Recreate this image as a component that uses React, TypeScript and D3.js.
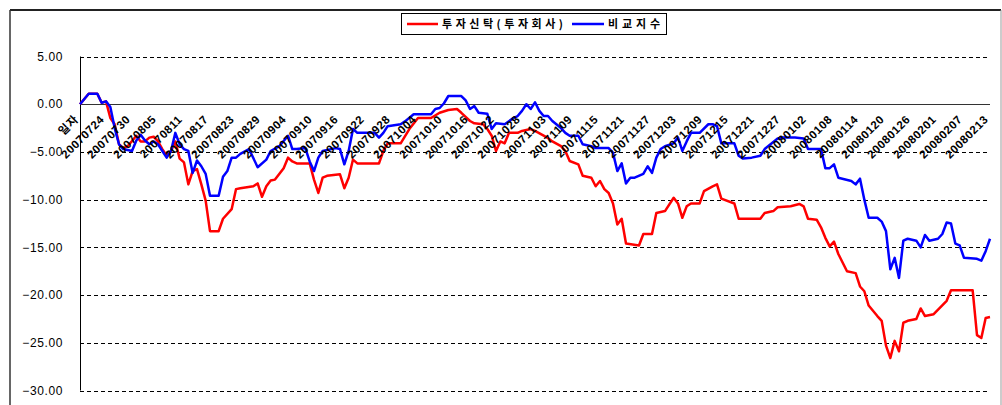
import React from "react";
import * as d3 from "d3";

const tickLabels = ["일자","20070724","20070730","20070805","20070811","20070817","20070823","20070829","20070904","20070910","20070916","20070922","20070928","20071004","20071010","20071016","20071022","20071028","20071103","20071109","20071115","20071121","20071127","20071203","20071209","20071215","20071221","20071227","20080102","20080108","20080114","20080120","20080126","20080201","20080207","20080213"];
const labelStep = 6;
const lastDay = 210;
const yTicks = [5, 0, -5, -10, -15, -20, -25, -30];
const seriesNames = ["투자신탁(투자회사)", "비교지수"];

// [day index, value]
const fundValues: [number, number][] = [[0,0],[2,1.1],[4,1.1],[5,0.15],[6,0.3],[7,-1.45],[8,-2.1],[9,-4.2],[10,-4.6],[11,-4.4],[13,-3.3],[14,-3.9],[15,-3.9],[16,-3.5],[17,-3.4],[18,-3.9],[19,-4.7],[20,-5.4],[21,-4.9],[22,-3.9],[23,-5.7],[24,-6.1],[25,-8.4],[26,-7.0],[27,-6.8],[28,-8.4],[29,-10.1],[30,-13.3],[32,-13.3],[33,-12.0],[35,-11.0],[36,-8.9],[37,-8.8],[40,-8.6],[41,-8.3],[42,-9.7],[43,-8.6],[44,-8.0],[45,-7.9],[47,-6.7],[48,-5.6],[49,-6.0],[50,-6.2],[53,-6.2],[54,-7.9],[55,-9.3],[56,-7.7],[57,-7.5],[60,-7.35],[61,-8.8],[62,-7.7],[63,-5.8],[64,-6.2],[69,-6.2],[70,-4.9],[71,-4.1],[74,-4.1],[76,-2.6],[78,-1.45],[81,-1.45],[83,-0.9],[85,-0.6],[87,-0.5],[88,-0.9],[90,-1.76],[91,-2.0],[93,-2.1],[94,-2.6],[95,-3.3],[96,-4.9],[97,-3.9],[98,-4.1],[99,-3.0],[101,-3.0],[102,-2.8],[104,-2.6],[105,-2.8],[107,-3.3],[108,-3.55],[109,-3.9],[111,-4.4],[112,-4.9],[113,-5.95],[115,-6.3],[116,-7.5],[118,-7.7],[119,-8.6],[120,-8.05],[121,-8.9],[122,-9.3],[123,-10.4],[124,-12.6],[125,-12.0],[126,-14.6],[129,-14.8],[130,-13.6],[132,-13.6],[133,-11.4],[135,-11.2],[137,-9.8],[138,-10.4],[139,-11.9],[140,-10.7],[141,-10.4],[143,-10.4],[144,-9.1],[146,-8.6],[147,-8.4],[148,-9.9],[151,-10.4],[152,-12.0],[157,-12.0],[158,-11.4],[160,-11.2],[161,-10.8],[164,-10.7],[166,-10.45],[167,-10.7],[168,-12.0],[170,-12.1],[171,-12.9],[172,-14.0],[173,-14.9],[174,-14.4],[175,-15.7],[177,-17.5],[179,-17.7],[180,-19.1],[181,-19.6],[182,-21.1],[184,-22.2],[185,-22.7],[186,-25.3],[187,-26.6],[188,-24.8],[189,-25.9],[190,-22.9],[191,-22.7],[193,-22.5],[194,-21.4],[195,-22.2],[197,-22.0],[200,-20.6],[201,-19.5],[206,-19.5],[207,-24.2],[208,-24.5],[209,-22.4],[210,-22.3]];

const indexValues: [number, number][] = [[0,0],[2,1.1],[4,1.1],[5,0.15],[6,0.3],[7,-0.3],[8,-2.5],[9,-4.2],[10,-4.7],[12,-4.9],[13,-3.8],[14,-3.2],[15,-3.8],[16,-4.2],[17,-3.9],[18,-4.2],[19,-4.9],[20,-5.6],[21,-4.9],[22,-3.0],[23,-4.2],[24,-4.7],[25,-4.9],[26,-7.2],[27,-5.9],[28,-6.5],[29,-7.3],[30,-9.6],[32,-9.6],[33,-7.6],[34,-7.0],[35,-5.6],[36,-5.6],[37,-5.2],[39,-4.7],[41,-6.6],[43,-5.8],[44,-4.9],[46,-4.4],[48,-3.3],[49,-4.7],[50,-4.7],[52,-4.6],[53,-6.0],[54,-7.0],[55,-5.6],[56,-4.9],[59,-4.6],[60,-4.7],[61,-6.3],[62,-4.9],[63,-2.6],[64,-3.0],[68,-3.0],[69,-3.5],[70,-3.0],[71,-2.3],[74,-2.1],[75,-1.8],[77,-1.05],[81,-1.05],[82,-0.5],[83,-0.4],[84,0.1],[85,0.86],[88,0.86],[89,0.4],[90,-0.5],[91,-0.2],[92,-0.9],[94,-1.0],[95,-2.6],[96,-2.0],[98,-2.1],[100,-1.45],[101,-1.24],[102,-0.7],[103,0.0],[104,-0.5],[105,0.2],[106,-0.7],[107,-1.24],[108,-1.24],[109,-1.76],[111,-2.5],[112,-3.0],[113,-3.3],[115,-3.3],[116,-4.2],[118,-4.4],[119,-4.6],[122,-4.6],[123,-5.1],[124,-7.0],[125,-6.2],[126,-8.3],[127,-7.7],[128,-7.7],[130,-7.3],[131,-6.5],[132,-7.2],[133,-5.6],[134,-4.7],[135,-4.4],[137,-4.1],[138,-3.5],[139,-4.9],[140,-3.9],[141,-3.0],[143,-3.0],[145,-2.1],[146,-2.1],[147,-2.3],[148,-4.1],[151,-4.1],[152,-5.4],[153,-5.7],[155,-5.6],[157,-5.4],[158,-4.7],[161,-3.6],[162,-3.5],[165,-3.5],[167,-3.6],[168,-4.7],[171,-4.7],[172,-6.7],[173,-6.7],[174,-6.3],[175,-7.7],[178,-8.05],[179,-8.4],[180,-7.8],[181,-10.0],[182,-11.9],[184,-11.9],[185,-12.3],[186,-13.3],[187,-17.3],[188,-16.1],[189,-18.2],[190,-14.3],[191,-14.1],[193,-14.3],[194,-15.0],[195,-13.7],[196,-14.3],[198,-14.1],[199,-13.6],[200,-12.4],[201,-12.5],[202,-14.6],[203,-14.8],[204,-16.1],[207,-16.2],[208,-16.4],[209,-15.4],[210,-14.1]];

const W = 1002;
const H = 405;
const plot = { left: 80, right: 990, top: 56.5, bottom: 390.5 };

export default function App() {
  const x = d3.scaleLinear().domain([0, lastDay]).range([plot.left, plot.right]);
  const y = d3.scaleLinear().domain([-30, 5]).range([plot.bottom, plot.top]);
  const line = d3.line<[number, number]>().x((d) => x(d[0])).y((d) => y(d[1]));
  const font = "'Liberation Sans', Arial, 'Noto Sans CJK KR', sans-serif";
  const krFont = "'Noto Sans CJK KR', 'Liberation Sans', sans-serif";
  const y0 = y(0);

  return (
    <svg width={W} height={H} style={{ position: "absolute", left: 0, top: 0, background: "#fff" }}>
      {/* frame */}
      <line x1={10} y1={10} x2={1001} y2={10} stroke="#222" strokeWidth={2} />
      <line x1={10} y1={10} x2={10} y2={H} stroke="#333" strokeWidth={1.5} />
      <line x1={1001} y1={10} x2={1001} y2={H} stroke="#999" strokeWidth={1} />

      {/* gridlines */}
      {yTicks.filter((t) => t !== 0).map((t) => (
        <line key={t} x1={plot.left} x2={plot.right} y1={Math.round(y(t)) + 0.5} y2={Math.round(y(t)) + 0.5}
          stroke="#000" strokeWidth={1} strokeDasharray="4 3" />
      ))}
      <line x1={plot.left} x2={plot.right} y1={Math.round(y0) + 0.5} y2={Math.round(y0) + 0.5} stroke="#333" strokeWidth={1} />
      <line x1={plot.left + 0.5} x2={plot.left + 0.5} y1={y(5)} y2={y(-30)} stroke="#000" strokeWidth={1} />

      {/* y tick labels */}
      {yTicks.map((t) => (
        <text key={t} x={63} y={y(t)} dy="0.35em" textAnchor="end" fontFamily={font} fontSize={12} letterSpacing={0.6} fill="#000">
          {d3.format(".2f")(t)}
        </text>
      ))}

      {/* series */}
      <path d={line(fundValues) || ""} fill="none" stroke="#ff0000" strokeWidth={2.5} strokeLinejoin="round" />
      <path d={line(indexValues) || ""} fill="none" stroke="#0000ff" strokeWidth={2.5} strokeLinejoin="round" />

      {/* x tick labels */}
      {tickLabels.map((lab, i) => {
        const px = x(i * labelStep) - 1;
        const py = y0 + 16;
        return (
          <text key={lab} x={px} y={py} textAnchor="end" fontFamily={font} fontSize={11.5} fontWeight="bold"
            letterSpacing={0.5} fill="#000" transform={`rotate(-45 ${px} ${py})`}>
            {lab}
          </text>
        );
      })}

      {/* legend */}
      <rect x={401.5} y={13.5} width={265} height={21} fill="#fff" stroke="#000" strokeWidth={1} />
      <line x1={407} x2={438} y1={24} y2={24} stroke="#ff0000" strokeWidth={2.5} />
      <text x={442} y={24} dy="0.36em" fontFamily={krFont} fontSize={11} fontWeight="bold" textLength={121} lengthAdjust="spacing">
        {seriesNames[0]}
      </text>
      <line x1={572} x2={604} y1={24} y2={24} stroke="#0000ff" strokeWidth={2.5} />
      <text x={608} y={24} dy="0.36em" fontFamily={krFont} fontSize={11} fontWeight="bold" textLength={52} lengthAdjust="spacing">
        {seriesNames[1]}
      </text>
    </svg>
  );
}
